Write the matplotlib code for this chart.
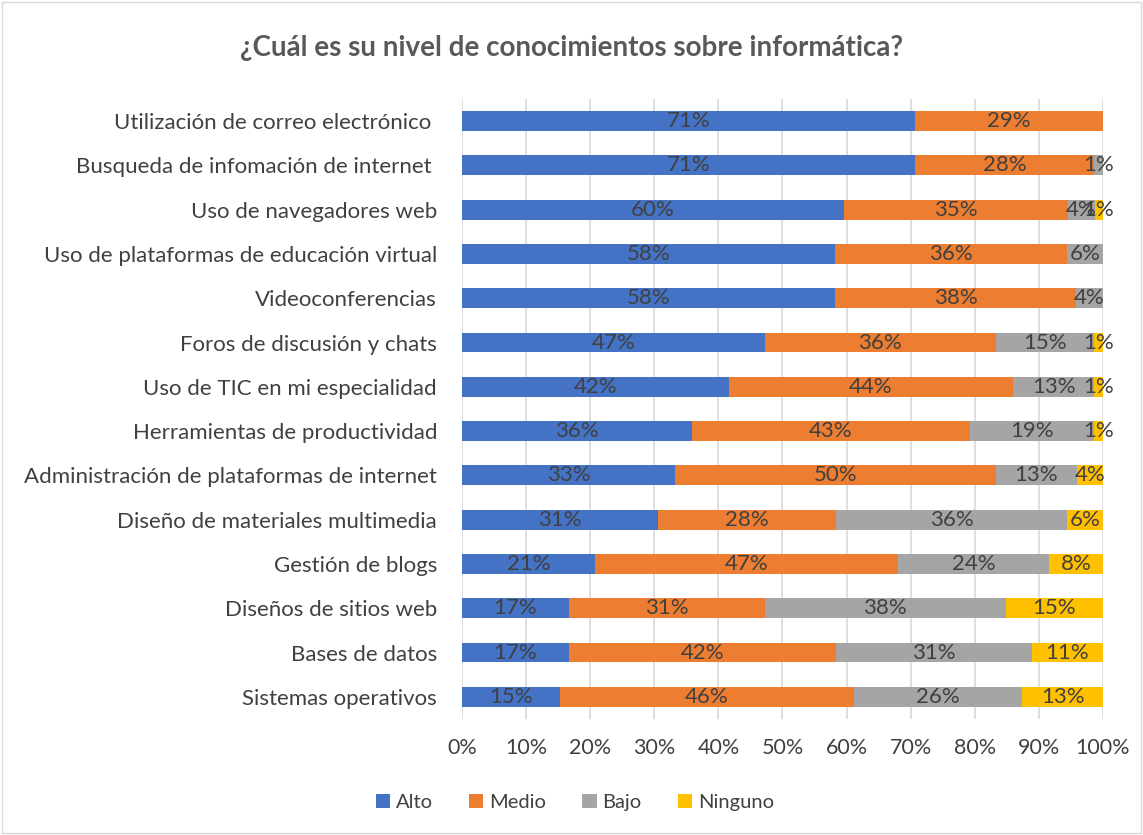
import numpy as np
import matplotlib.pyplot as plt
from matplotlib.patches import Rectangle
from matplotlib.ticker import PercentFormatter

plt.rcParams['font.family'] = ['Lato', 'DejaVu Sans']

# --- Datos (de arriba hacia abajo) ---
categorias = [
    "Utilización de correo electrónico ",
    "Busqueda de infomación de internet ",
    "Uso de navegadores web",
    "Uso de plataformas de educación virtual",
    "Videoconferencias",
    "Foros de discusión y chats",
    "Uso de TIC en mi especialidad",
    "Herramientas de productividad",
    "Administración de plataformas de internet",
    "Diseño de materiales multimedia",
    "Gestión de blogs",
    "Diseños de sitios web",
    "Bases de datos",
    "Sistemas operativos",
]
alto    = [70.7, 70.7, 59.6, 58.2, 58.2, 47.2, 41.6, 35.9, 33.3, 30.6, 20.8, 16.7, 16.7, 15.3]
medio   = [29.3, 27.9, 35.0, 36.2, 37.6, 36.1, 44.4, 43.3, 50.0, 27.7, 47.2, 30.6, 41.6, 45.8]
bajo    = [0.0,  1.4,  4.1,  5.6,  4.2,  15.3, 12.6, 19.4, 12.6, 36.1, 23.6, 37.5, 30.6, 26.3]
ninguno = [0.0,  0.0,  1.3,  0.0,  0.0,  1.4,  1.4,  1.4,  4.1,  5.6,  8.4,  15.2, 11.1, 12.6]

series = [("Alto", alto, "#4472C4"), ("Medio", medio, "#ED7D31"),
          ("Bajo", bajo, "#A5A5A5"), ("Ninguno", ninguno, "#FFC000")]

fig = plt.figure(figsize=(11.43, 8.35), dpi=100)
ax = fig.add_axes([0.4042, 0.139, 0.5608, 0.7425])

y = np.arange(len(categorias))
left = np.zeros(len(categorias))
for nombre, vals, color in series:
    vals = np.array(vals)
    ax.barh(y, vals, left=left, height=0.45, color=color, label=nombre, zorder=3)
    for yi, (l, v) in enumerate(zip(left, vals)):
        if v > 0:
            ax.text(l + v / 2, yi, f"{round(v):.0f}%", ha='center', va='center',
                    fontsize=16, color='#404040', zorder=4)
    left += vals

ax.set_ylim(len(categorias) - 0.5, -0.5)
ax.set_xlim(0, 100)
ax.set_yticks(y)
ax.set_yticklabels(categorias, fontsize=16, color='#404040')
ax.set_xticks(np.arange(0, 101, 10))
ax.xaxis.set_major_formatter(PercentFormatter(decimals=0))
ax.tick_params(axis='x', labelsize=15.5, colors='#404040', length=0, pad=14)
ax.tick_params(axis='y', length=0, pad=18)
ax.grid(axis='x', color='#D9D9D9', linewidth=1.2, zorder=0)
for s in ax.spines.values():
    s.set_visible(False)

fig.text(0.5, 0.942, "¿Cuál es su nivel de conocimientos sobre informática?",
         ha='center', va='center', fontsize=20, fontweight='bold', color='#595959')

fig.legend(loc='center', bbox_to_anchor=(0.503, 0.039), ncol=4, frameon=False,
           fontsize=14.5, handlelength=0.7, handleheight=0.7, columnspacing=1.8,
           handletextpad=0.3, labelcolor='#404040')

fig.patches.append(Rectangle((0.002, 0.002), 0.996, 0.996, transform=fig.transFigure,
                             fill=False, edgecolor='#D9D9D9', linewidth=1))

fig.savefig("out.png", dpi=100)
